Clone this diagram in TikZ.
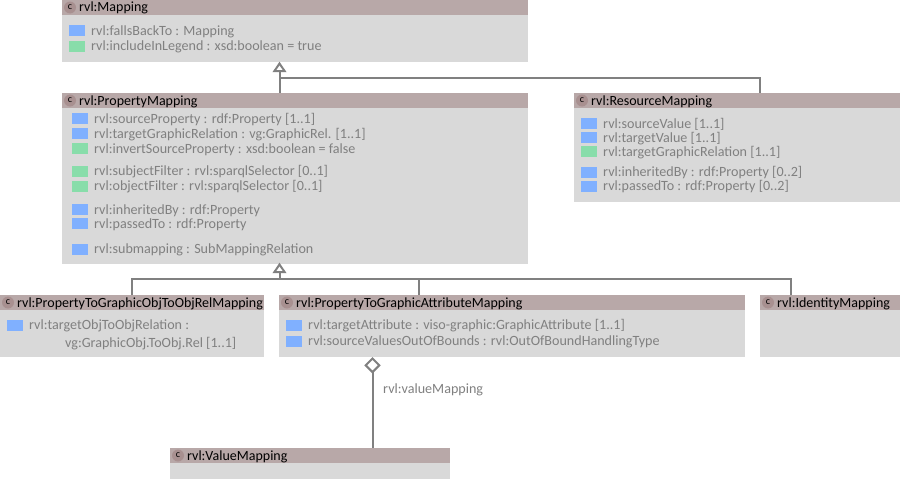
\documentclass[tikz,border=0pt]{standalone}
\usepackage{fontspec}
\setmainfont{Carlito}
\usetikzlibrary{arrows.meta}
\definecolor{hdr}{HTML}{B8A8A8}
\definecolor{bdy}{HTML}{D9D9D9}
\definecolor{circ}{HTML}{A89090}
\definecolor{txt}{HTML}{808080}
\definecolor{blu}{HTML}{80B0FF}
\definecolor{grn}{HTML}{88DDAA}
\definecolor{lin}{HTML}{808080}
\tikzset{x=1pt,y=-1pt,
  bodybox/.style={fill=bdy,draw=none,inner sep=0pt,anchor=north west},
  headbox/.style={fill=hdr,draw=none,inner sep=0pt,anchor=north west,minimum height=15pt},
  title/.style={anchor=base west,inner sep=0pt,text=black,font=\fontsize{14}{15}\selectfont},
  cmark/.style={circle,fill=circ,inner sep=0pt,minimum size=12pt,font=\fontsize{10}{10}\selectfont,text=black},
  attr/.style={anchor=base west,inner sep=0pt,text=txt,font=\fontsize{14.1}{15}\selectfont},
  swatch/.style={anchor=center,inner sep=0pt,minimum width=16pt,minimum height=11pt,draw=none},
  conn/.style={draw=lin,line width=2pt},
  gen/.style={draw=lin,line width=2pt,fill=white,line join=miter},
  aggr/.style={draw=lin,line width=2pt,fill=white,line join=miter}}
\newcommand{\umlclass}[6]{% name x y w h title
  \node[bodybox,minimum width=#4pt,minimum height=#5pt] (#1) at (#2,#3) {};
  \node[headbox,minimum width=#4pt] (#1h) at (#2,#3) {};
  \node[cmark] (#1c) at (#2+8,#3+7.5) {c};
  \node[title] (#1t) at (#2+17,#3+12) {#6};}
\newcommand{\attrb}[5]{% name x y color text
  \node[swatch,fill=#4] (#1s) at (#2,#3) {};
  \node[attr] (#1) at (#2+14,#3+4.5) {#5};}
\begin{document}
\begin{tikzpicture}
\useasboundingbox (0,0) rectangle (900,479);
\umlclass{map}{62}{0}{466}{62}{rvl:Mapping}
\umlclass{pm}{62}{93}{466}{171}{rvl:PropertyMapping}
\umlclass{rm}{574}{93}{326}{109}{rvl:ResourceMapping}
\umlclass{po}{0}{295}{264}{62}{rvl:PropertyToGraphicObjToObjRelMapping}
\umlclass{pa}{279}{295}{466}{62}{rvl:PropertyToGraphicAttributeMapping}
\umlclass{im}{760}{295}{140}{62}{rvl:IdentityMapping}
\umlclass{vm}{170}{448}{280}{31}{rvl:ValueMapping}
\attrb{a1}{77}{30.5}{blu}{rvl:fallsBackTo : Mapping}
\attrb{a2}{77}{46.3}{grn}{rvl:includeInLegend : xsd:boolean = true}
\attrb{b1}{80}{118.5}{blu}{rvl:sourceProperty : rdf:Property [1..1]}
\attrb{b2}{80}{133.5}{blu}{rvl:targetGraphicRelation : vg:GraphicRel. [1..1]}
\attrb{b3}{80}{148.5}{grn}{rvl:invertSourceProperty : xsd:boolean = false}
\attrb{b4}{80}{171}{grn}{rvl:subjectFilter : rvl:sparqlSelector [0..1]}
\attrb{b5}{80}{186}{grn}{rvl:objectFilter : rvl:sparqlSelector [0..1]}
\attrb{b6}{80}{209.5}{blu}{rvl:inheritedBy : rdf:Property}
\attrb{b7}{80}{223.5}{blu}{rvl:passedTo : rdf:Property}
\attrb{b8}{80}{249}{blu}{rvl:submapping : SubMappingRelation}
\attrb{c1}{589}{123.5}{blu}{rvl:sourceValue [1..1]}
\attrb{c2}{589}{137.5}{blu}{rvl:targetValue [1..1]}
\attrb{c3}{589}{151.5}{grn}{rvl:targetGraphicRelation [1..1]}
\attrb{c4}{589}{172}{blu}{rvl:inheritedBy : rdf:Property [0..2]}
\attrb{c5}{589}{186}{blu}{rvl:passedTo : rdf:Property [0..2]}
\attrb{d1}{15}{325}{blu}{rvl:targetObjToObjRelation :}
\node[attr] (d2) at (65,347) {vg:GraphicObj.ToObj.Rel [1..1]};
\attrb{e1}{294}{325}{blu}{rvl:targetAttribute : viso-graphic:GraphicAttribute [1..1]}
\attrb{e2}{294}{341}{blu}{rvl:sourceValuesOutOfBounds : rvl:OutOfBoundHandlingType}
\node[attr] (vl) at (383,393) {rvl:valueMapping};
% generalisation upper
\coordinate (t1b) at (279.5,71);
\coordinate (j1) at (279.5,78);
\draw[conn] (t1b) -- (t1b |- pmh.north);
\draw[conn] (j1) -| (rmh.north -| 760,0);
\draw[gen] (279.5,63.5) -- (284.7,71.2) -- (274.3,71.2) -- cycle;
% generalisation lower
\coordinate (t2b) at (279.5,272);
\coordinate (j2) at (279.5,279);
\draw[conn] (t2b) -- (j2);
\draw[conn] (poh.north -| 132,0) |- (j2) -| (imh.north -| 791,0);
\draw[conn] (j2 -| 419,0) -- (pah.north -| 419,0);
\draw[gen] (279.5,264.5) -- (284.7,272.2) -- (274.3,272.2) -- cycle;
% aggregation
\draw[conn] (372.5,372) -- (vmh.north -| 372.5,0);
\draw[aggr] (372.5,358.5) -- (379.3,365.3) -- (372.5,372.1) -- (365.7,365.3) -- cycle;
\end{tikzpicture}
\end{document}
